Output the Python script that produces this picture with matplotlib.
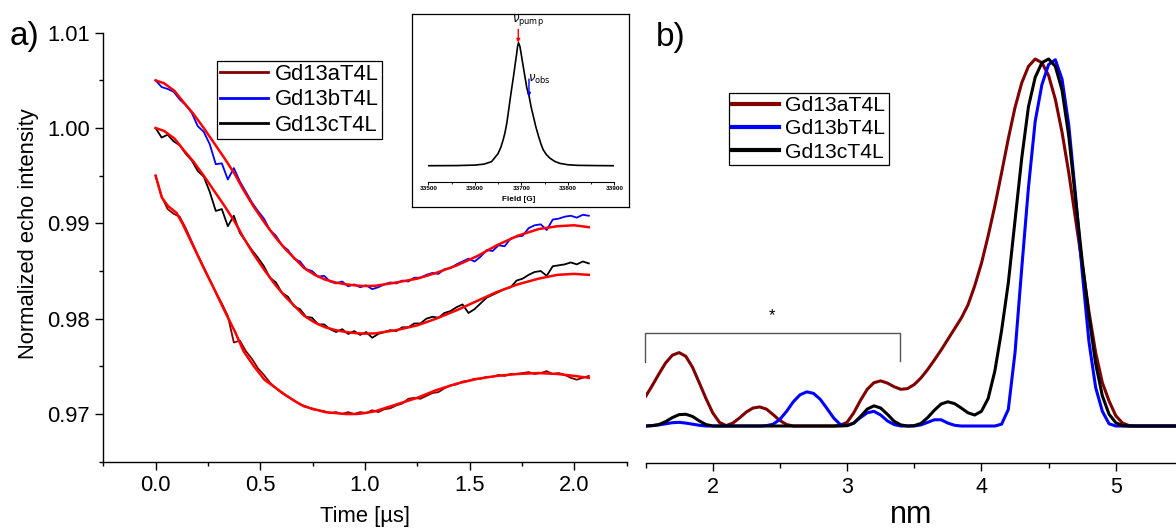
import numpy as np
import matplotlib
matplotlib.use("Agg")
import matplotlib.pyplot as plt
from matplotlib.ticker import MultipleLocator, FormatStrFormatter

plt.rcParams["font.family"] = ["Liberation Sans", "DejaVu Sans"]

# --- a) DEER traces (normalized echo vs. time) ---
time_us = np.linspace(0, 2.07, 73)

echo_a = [0.9950, 0.9928, 0.9915, 0.9910, 0.9907, 0.9895, 0.9881, 0.9867, 0.9854, 0.9841,
          0.9828, 0.9816, 0.9803, 0.9775, 0.9777, 0.9766, 0.9758, 0.9748, 0.9741, 0.9733,
          0.9727, 0.9722, 0.9718, 0.9714, 0.9710, 0.9708, 0.9705, 0.9704, 0.9703, 0.9701,
          0.9702, 0.9700, 0.9702, 0.9700, 0.9702, 0.9701, 0.9704, 0.9702, 0.9705, 0.9706,
          0.9709, 0.9711, 0.9716, 0.9717, 0.9716, 0.9719, 0.9722, 0.9723, 0.9727, 0.9730,
          0.9731, 0.9734, 0.9735, 0.9737, 0.9737, 0.9739, 0.9739, 0.9741, 0.9740, 0.9742,
          0.9742, 0.9743, 0.9744, 0.9742, 0.9743, 0.9745, 0.9742, 0.9743, 0.9741, 0.9738,
          0.9736, 0.9738, 0.9740]

echo_b = [1.0050, 1.0043, 1.0041, 1.0038, 1.0030, 1.0024, 1.0016, 1.0002, 0.9996, 0.9983,
          0.9962, 0.9963, 0.9946, 0.9958, 0.9944, 0.9933, 0.9922, 0.9913, 0.9905, 0.9893,
          0.9887, 0.9877, 0.9872, 0.9863, 0.9860, 0.9852, 0.9850, 0.9844, 0.9845, 0.9839,
          0.9837, 0.9839, 0.9834, 0.9836, 0.9833, 0.9835, 0.9831, 0.9833, 0.9836, 0.9838,
          0.9837, 0.9840, 0.9839, 0.9843, 0.9843, 0.9846, 0.9848, 0.9847, 0.9852, 0.9853,
          0.9857, 0.9860, 0.9863, 0.9860, 0.9865, 0.9872, 0.9871, 0.9877, 0.9876, 0.9884,
          0.9886, 0.9887, 0.9895, 0.9898, 0.9899, 0.9893, 0.9904, 0.9905, 0.9907, 0.9908,
          0.9906, 0.9909, 0.9908]

echo_c = [1.0000, 0.9990, 0.9993, 0.9986, 0.9982, 0.9973, 0.9966, 0.9955, 0.9949, 0.9933,
          0.9913, 0.9915, 0.9897, 0.9908, 0.9890, 0.9881, 0.9872, 0.9864, 0.9855, 0.9843,
          0.9838, 0.9827, 0.9823, 0.9813, 0.9810, 0.9802, 0.9801, 0.9794, 0.9794, 0.9789,
          0.9786, 0.9789, 0.9784, 0.9787, 0.9783, 0.9786, 0.9780, 0.9784, 0.9786, 0.9788,
          0.9787, 0.9791, 0.9791, 0.9795, 0.9795, 0.9800, 0.9802, 0.9801, 0.9806, 0.9808,
          0.9812, 0.9815, 0.9806, 0.9810, 0.9816, 0.9822, 0.9825, 0.9828, 0.9831, 0.9833,
          0.9840, 0.9842, 0.9846, 0.9849, 0.9850, 0.9845, 0.9855, 0.9856, 0.9857, 0.9859,
          0.9857, 0.9860, 0.9858]

# fitted background-corrected form factors
fit_time = [0, 0.04, 0.09, 0.13, 0.18, 0.23, 0.28, 0.33, 0.38, 0.42, 0.47, 0.52, 0.57,
            0.62, 0.67, 0.71, 0.76, 0.81, 0.86, 0.91, 0.96, 1.00, 1.05, 1.15, 1.25, 1.34,
            1.44, 1.54, 1.63, 1.73, 1.83, 1.92, 2.00, 2.07]
fit_b = [1.0050, 1.0047, 1.0039, 1.0028, 1.0015, 1.0000, 0.9984, 0.9968, 0.9951, 0.9935,
         0.9917, 0.9901, 0.9886, 0.9873, 0.9862, 0.9853, 0.9846, 0.9841, 0.9838, 0.9836,
         0.98348, 0.98343, 0.98345, 0.9838, 0.9842, 0.9848, 0.9856, 0.9866, 0.9877, 0.9887,
         0.9894, 0.9897, 0.9898, 0.9896]
fit_c = [1.0000, 0.9997, 0.9989, 0.9978, 0.9965, 0.9950, 0.9934, 0.9918, 0.9901, 0.9885,
         0.9867, 0.9851, 0.9836, 0.9823, 0.9812, 0.9803, 0.9796, 0.9791, 0.9788, 0.9786,
         0.97848, 0.97843, 0.97846, 0.9788, 0.9793, 0.9800, 0.9809, 0.9819, 0.9828, 0.9836,
         0.9842, 0.9846, 0.9847, 0.9846]
fit_a_time = [0, 0.005, 0.03, 0.06, 0.10] + fit_time[3:]
fit_a = [0.9950, 0.9946, 0.9927, 0.9918, 0.9911, 0.9899, 0.9876, 0.9853, 0.9831, 0.9808,
         0.9786, 0.9766, 0.9750, 0.9736, 0.9728, 0.9720, 0.9713, 0.9708, 0.9705, 0.9702,
         0.9701, 0.9700, 0.9700, 0.9701, 0.9703, 0.9710, 0.9717, 0.9725, 0.9732, 0.9737,
         0.9740, 0.9742, 0.9743, 0.9742, 0.9740, 0.9738]

labels = ["Gd13aT4L", "Gd13bT4L", "Gd13cT4L"]
colors = ["#800000", "#0000ff", "#000000"]

# --- b) distance distributions ---
dist_nm = np.round(np.linspace(1.5, 5.45, 80), 2)
p_a = [0.080, 0.110, 0.142, 0.172, 0.193, 0.200, 0.190, 0.160, 0.118, 0.075,
       0.036, 0.010, 0.001, 0.008, 0.022, 0.038, 0.049, 0.052, 0.046, 0.031,
       0.015, 0.004, 0, 0, 0, 0, 0, 0, 0, 0.002,
       0.010, 0.036, 0.070, 0.100, 0.118, 0.123, 0.117, 0.107, 0.100, 0.102,
       0.113, 0.131, 0.154, 0.180, 0.207, 0.236, 0.265, 0.294, 0.330, 0.382,
       0.443, 0.518, 0.600, 0.690, 0.783, 0.868, 0.935, 0.980, 1.000, 0.990,
       0.955, 0.890, 0.800, 0.690, 0.565, 0.440, 0.312, 0.200, 0.118, 0.068,
       0.028, 0.008, 0.001, 0, 0, 0, 0, 0, 0, 0]
p_b = [0, 0.001, 0.003, 0.006, 0.009, 0.010, 0.008, 0.005, 0.002, 0,
       0, 0, 0, 0, 0, 0, 0, 0, 0.001, 0.005,
       0.018, 0.040, 0.066, 0.085, 0.093, 0.089, 0.073, 0.048, 0.022, 0.004,
       0.001, 0.008, 0.023, 0.036, 0.040, 0.030, 0.014, 0.004, 0, 0,
       0, 0.003, 0.010, 0.017, 0.017, 0.008, 0.002, 0, 0, 0,
       0, 0, 0, 0.005, 0.045, 0.200, 0.430, 0.650, 0.830, 0.930,
       0.985, 0.998, 0.945, 0.820, 0.630, 0.420, 0.230, 0.105, 0.040, 0.006,
       0, 0, 0, 0, 0, 0, 0, 0, 0, 0]
p_c = [0, 0.001, 0.004, 0.012, 0.023, 0.031, 0.032, 0.026, 0.014, 0.004,
       0, 0, 0, 0, 0, 0, 0, 0, 0, 0,
       0, 0, 0, 0, 0, 0, 0, 0, 0, 0,
       0.001, 0.008, 0.026, 0.046, 0.055, 0.049, 0.032, 0.013, 0.003, 0,
       0.001, 0.007, 0.023, 0.043, 0.060, 0.066, 0.061, 0.049, 0.036, 0.030,
       0.040, 0.075, 0.150, 0.260, 0.390, 0.560, 0.730, 0.870, 0.950, 0.990,
       1.000, 0.980, 0.915, 0.790, 0.620, 0.450, 0.300, 0.170, 0.082, 0.032,
       0.009, 0.001, 0, 0, 0, 0, 0, 0, 0, 0]

# --- inset: echo-detected field sweep ---
field_G = [33500, 33560, 33600, 33620, 33636, 33650, 33656, 33661, 33665, 33669,
           33672, 33676, 33679, 33683, 33687, 33690, 33692, 33694, 33697, 33701,
           33704, 33708, 33712, 33717, 33721, 33726, 33731, 33737, 33742, 33747,
           33754, 33762, 33772, 33783, 33800, 33820, 33860, 33900]
edfs = [0.0, 0.001, 0.005, 0.013, 0.033, 0.098, 0.15, 0.21, 0.27, 0.35,
        0.43, 0.54, 0.62, 0.72, 0.83, 0.91, 0.97, 1.0, 0.97, 0.88,
        0.81, 0.72, 0.63, 0.56, 0.48, 0.40, 0.32, 0.24, 0.18, 0.13,
        0.09, 0.06, 0.035, 0.019, 0.008, 0.003, 0.001, 0.0]
nu_pump = 33693.5
nu_obs = 33716.5

W, H = 1176, 528
fig = plt.figure(figsize=(W / 100, H / 100), dpi=100)


def px_box(left, top, right, bottom):
    return [left / W, 1 - bottom / H, (right - left) / W, (bottom - top) / H]


# ---------------- panel a ----------------
ax1 = fig.add_axes(px_box(103.3, 32.7, 626.5, 461.7))
for y, c, lab in zip([echo_a, echo_b, echo_c], colors, labels):
    ax1.plot(time_us, y, color=c, lw=1.3, label=lab)
ax1.plot(fit_a_time, fit_a, color="#ff0000", lw=1.8)
ax1.plot(fit_time, fit_b, color="#ff0000", lw=1.8)
ax1.plot(fit_time, fit_c, color="#ff0000", lw=1.8)

ax1.set_xlim(-0.25, 2.25)
ax1.set_ylim(0.965, 1.01)
ax1.xaxis.set_major_locator(MultipleLocator(0.5))
ax1.xaxis.set_minor_locator(MultipleLocator(0.25))
ax1.yaxis.set_major_locator(MultipleLocator(0.01))
ax1.yaxis.set_minor_locator(MultipleLocator(0.005))
ax1.xaxis.set_major_formatter(FormatStrFormatter("%.1f"))
ax1.yaxis.set_major_formatter(FormatStrFormatter("%.2f"))
for s in ["top", "right"]:
    ax1.spines[s].set_visible(False)
for s in ["left", "bottom"]:
    ax1.spines[s].set_linewidth(1.0)
ax1.tick_params(which="major", direction="out", length=5.5, width=1.0,
                labelsize=15.8, pad=4)
ax1.tick_params(which="minor", direction="out", length=3, width=1.0)

fig.text(28.6 / W, 1 - 234 / H, "Normalized echo intensity", rotation=90,
         ha="center", va="center", fontsize=15.8)
fig.text(365 / W, 1 - 522 / H, "Time [\u00b5s]", ha="center", va="baseline",
         fontsize=15.8)
fig.text(10 / W, 1 - 45.5 / H, "a)", ha="left", va="baseline", fontsize=24)

leg1 = ax1.legend(loc="upper left", bbox_to_anchor=(216.5 / W, 1 - 60.6 / H),
                  bbox_transform=fig.transFigure, borderaxespad=0,
                  fontsize=15.8, handlelength=2.2, handletextpad=0.3,
                  borderpad=0.15, labelspacing=0.2, fancybox=False,
                  framealpha=1, edgecolor="black")
leg1.get_frame().set_linewidth(0.9)
for ln in leg1.get_lines():
    ln.set_linewidth(2.0)

# ---------------- inset ----------------
ax_frame = fig.add_axes(px_box(411.7, 14, 629, 206.7))
ax_frame.set_xticks([])
ax_frame.set_yticks([])
for s in ax_frame.spines.values():
    s.set_linewidth(0.9)

ax_in = fig.add_axes(px_box(428.3, 25, 614.3, 181.7))
ax_in.patch.set_alpha(0)
ax_in.plot(field_G, edfs, color="black", lw=1.2)
ax_in.set_xlim(33500, 33900)
ax_in.set_ylim(-0.13, 1.144)
for s in ["top", "right", "left"]:
    ax_in.spines[s].set_visible(False)
ax_in.spines["bottom"].set_linewidth(0.8)
ax_in.set_yticks([])
ax_in.xaxis.set_major_locator(MultipleLocator(100))
ax_in.xaxis.set_minor_locator(MultipleLocator(50))
ax_in.tick_params(which="major", direction="out", length=2.2, width=0.7,
                  labelsize=4.6, pad=1)
ax_in.tick_params(which="minor", direction="out", length=1.3, width=0.6)
for t in ax_in.get_xticklabels():
    t.set_fontweight("bold")
fig.text(519 / W, 1 - 199.5 / H, "Field [G]", ha="center", va="center",
         fontsize=5.9, fontweight="bold")

ax_in.annotate("", xy=(nu_pump, 1.0), xytext=(nu_pump, 1.109),
               arrowprops=dict(arrowstyle="-|>", color="red", lw=1.0,
                               mutation_scale=5, shrinkA=0, shrinkB=0),
               annotation_clip=False)
ax_in.annotate("", xy=(nu_obs, 0.561), xytext=(nu_obs, 0.705),
               arrowprops=dict(arrowstyle="-|>", color="blue", lw=1.0,
                               mutation_scale=5, shrinkA=0, shrinkB=0),
               annotation_clip=False)
ax_in.text(33680, 1.17, r"$\nu_{\rm pump}$", fontsize=8.5, ha="left",
           va="baseline", clip_on=False)
ax_in.text(33715, 0.683, r"$\nu_{\rm obs}$", fontsize=8.5, ha="left",
           va="baseline", clip_on=False)

# ---------------- panel b ----------------
ax2 = fig.add_axes(px_box(645.5, 32, 1176, 463))
for p, c, lab in zip([p_a, p_b, p_c], colors, labels):
    ax2.plot(dist_nm, p, color=c, lw=2.2, label=lab)
ax2.set_xlim(1.5, 5.448)
ax2.set_ylim(-0.1008, 1.0736)
ax2.xaxis.set_major_locator(MultipleLocator(1))
ax2.xaxis.set_minor_locator(MultipleLocator(0.5))
ax2.set_yticks([])
for s in ["top", "right", "left"]:
    ax2.spines[s].set_visible(False)
ax2.spines["bottom"].set_linewidth(1.0)
ax2.tick_params(which="major", direction="out", length=6, width=1.0,
                labelsize=15.5, pad=4)
ax2.tick_params(which="minor", direction="out", length=3.5, width=1.0)

# bracket marking the short-distance artefact region
bx = [1.497, 1.497, 3.394, 3.394]
by = [0.175, 0.2526, 0.2526, 0.178]
ax2.plot(bx, by, color="#555555", lw=1.0, clip_on=False)
ax2.text(2.442, 0.30, "*", ha="center", va="center", fontsize=12)

fig.text(910.7 / W, 1 - 523 / H, "nm", ha="center", va="baseline", fontsize=22)
fig.text(656 / W, 1 - 46 / H, "b)", ha="left", va="baseline", fontsize=24)

leg2 = ax2.legend(loc="upper left", bbox_to_anchor=(728.5 / W, 1 - 93 / H),
                  bbox_transform=fig.transFigure, borderaxespad=0,
                  fontsize=15.2, handlelength=2.25, handletextpad=0.3,
                  borderpad=0.15, labelspacing=0.2, fancybox=False,
                  framealpha=1, edgecolor="black")
leg2.get_frame().set_linewidth(0.9)
for ln in leg2.get_lines():
    ln.set_linewidth(3.0)

fig.savefig("out.png", dpi=100)
